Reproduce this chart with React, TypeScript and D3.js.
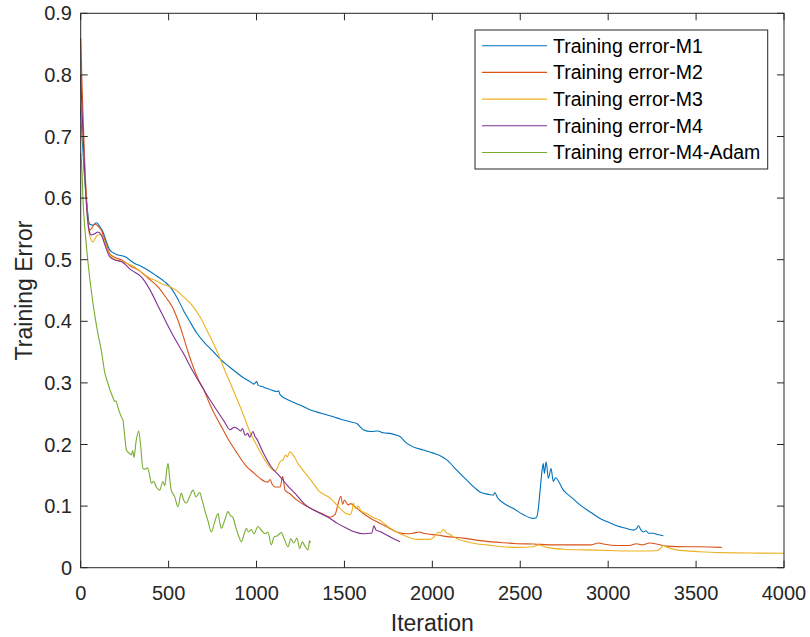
import { scaleLinear, line, curveMonotoneX } from "d3";

const width = 810;
const height = 637;
const left = 80.7;
const right = 784;
const top = 13.3;
const bottom = 567.7;

const xTicks = [0, 500, 1000, 1500, 2000, 2500, 3000, 3500, 4000];
const yTicks = [0, 0.1, 0.2, 0.3, 0.4, 0.5, 0.6, 0.7, 0.8, 0.9];

const seriesNames = [
  "Training error-M1",
  "Training error-M2",
  "Training error-M3",
  "Training error-M4",
  "Training error-M4-Adam",
];
const seriesColors = ["#0072BD", "#D95319", "#EDB120", "#7E2F8E", "#77AC30"];

// [iteration, training error]
const errM1 = [
  [0, 0.745], [8, 0.7], [20, 0.64], [35, 0.59], [50, 0.558], [70, 0.556], [90, 0.56], [110, 0.553],
  [127, 0.545], [145, 0.53], [165, 0.516], [200, 0.509], [250, 0.505], [307, 0.494], [345, 0.489],
  [383, 0.483], [430, 0.474], [478, 0.464], [508, 0.456], [545, 0.44], [584, 0.418], [620, 0.4],
  [660, 0.381], [705, 0.365], [750, 0.352], [800, 0.337], [868, 0.321], [933, 0.307], [963, 0.302],
  [985, 0.298], [1001, 0.302], [1010, 0.296], [1030, 0.294], [1070, 0.29], [1115, 0.286], [1125, 0.287],
  [1134, 0.281], [1190, 0.271], [1247, 0.264], [1300, 0.257], [1342, 0.253], [1390, 0.249], [1437, 0.245],
  [1480, 0.241], [1532, 0.237], [1570, 0.234], [1607, 0.224], [1650, 0.221], [1690, 0.222], [1721, 0.219],
  [1760, 0.218], [1797, 0.215], [1816, 0.213], [1850, 0.203], [1892, 0.196], [1950, 0.191], [2006, 0.186],
  [2050, 0.181], [2082, 0.175], [2140, 0.158], [2196, 0.142], [2240, 0.13], [2271, 0.123], [2320, 0.119],
  [2347, 0.118], [2355, 0.122], [2370, 0.114], [2404, 0.105], [2461, 0.096], [2518, 0.086], [2574, 0.08],
  [2590, 0.081], [2600, 0.09], [2613, 0.126], [2625, 0.16], [2631, 0.169], [2637, 0.153], [2647, 0.172],
  [2660, 0.145], [2675, 0.161], [2688, 0.14], [2700, 0.146], [2745, 0.126], [2800, 0.112], [2840, 0.102],
  [2900, 0.09], [2954, 0.08], [3000, 0.074], [3049, 0.068], [3100, 0.064], [3143, 0.061], [3160, 0.063],
  [3172, 0.068], [3185, 0.062], [3200, 0.058], [3215, 0.06], [3230, 0.056], [3257, 0.056], [3280, 0.054],
  [3314, 0.052],
];

const errM2 = [
  [0, 0.86], [8, 0.78], [20, 0.68], [35, 0.59], [51, 0.548], [65, 0.552], [80, 0.558], [100, 0.554],
  [117, 0.548], [140, 0.53], [165, 0.51], [200, 0.503], [231, 0.5], [288, 0.489], [330, 0.483],
  [364, 0.475], [400, 0.466], [440, 0.456], [489, 0.437], [520, 0.424], [546, 0.407], [565, 0.392],
  [584, 0.375], [612, 0.349], [641, 0.325], [670, 0.305], [698, 0.29], [735, 0.265], [773, 0.243],
  [810, 0.224], [840, 0.208], [880, 0.19], [944, 0.164], [980, 0.155], [1020, 0.145],
  [1047, 0.14], [1065, 0.139], [1077, 0.143], [1090, 0.135], [1105, 0.131], [1134, 0.131], [1149, 0.148],
  [1162, 0.126], [1190, 0.12], [1228, 0.11], [1270, 0.102], [1323, 0.094], [1370, 0.088], [1418, 0.082],
  [1446, 0.086], [1465, 0.105], [1479, 0.116], [1490, 0.103], [1500, 0.11], [1522, 0.102], [1535, 0.104],
  [1560, 0.099], [1607, 0.088], [1650, 0.08], [1702, 0.072], [1750, 0.065], [1797, 0.058], [1854, 0.055],
  [1890, 0.056], [1930, 0.058], [1950, 0.056], [1968, 0.055], [2025, 0.053], [2100, 0.05], [2176, 0.048],
  [2271, 0.044], [2385, 0.041], [2480, 0.039], [2574, 0.0385], [2680, 0.037], [2764, 0.037], [2900, 0.037],
  [2944, 0.04], [2980, 0.038], [3049, 0.036], [3120, 0.036], [3162, 0.039], [3190, 0.037], [3238, 0.04],
  [3280, 0.038], [3333, 0.035], [3450, 0.034], [3522, 0.034], [3646, 0.033],
];

const errM3 = [
  [0, 0.75], [8, 0.72], [20, 0.66], [35, 0.58], [50, 0.54], [70, 0.529], [85, 0.536], [98, 0.54],
  [117, 0.541], [140, 0.525], [165, 0.508], [200, 0.5], [231, 0.497], [288, 0.491], [345, 0.48],
  [394, 0.47], [421, 0.467], [460, 0.461], [508, 0.456], [550, 0.449], [584, 0.44], [630, 0.427],
  [679, 0.407], [724, 0.382], [773, 0.353], [820, 0.32], [868, 0.288], [920, 0.252], [963, 0.22],
  [1010, 0.194], [1047, 0.175], [1080, 0.162], [1103, 0.157], [1115, 0.16], [1134, 0.172],
  [1151, 0.175], [1165, 0.183], [1175, 0.18], [1189, 0.188], [1200, 0.186], [1215, 0.18], [1236, 0.169],
  [1265, 0.158], [1293, 0.148], [1323, 0.137], [1350, 0.126], [1418, 0.113], [1460, 0.101], [1494, 0.091],
  [1532, 0.086], [1545, 0.095], [1551, 0.105], [1562, 0.096], [1579, 0.1], [1595, 0.092], [1627, 0.088],
  [1660, 0.082], [1702, 0.077], [1750, 0.066], [1797, 0.058], [1850, 0.051], [1911, 0.046], [1987, 0.046],
  [2010, 0.05], [2034, 0.058], [2045, 0.056], [2062, 0.062], [2080, 0.057], [2100, 0.054], [2120, 0.05],
  [2196, 0.042], [2250, 0.039], [2309, 0.037], [2400, 0.034], [2480, 0.033], [2574, 0.034], [2603, 0.037],
  [2650, 0.033], [2750, 0.03], [2859, 0.029], [3000, 0.028], [3143, 0.027], [3276, 0.0276], [3300, 0.032],
  [3314, 0.036], [3335, 0.033], [3390, 0.029], [3522, 0.026], [3712, 0.024], [3850, 0.0237], [4000, 0.0234],
];

const errM4 = [
  [0, 0.8], [8, 0.74], [20, 0.66], [35, 0.58], [50, 0.545], [60, 0.54], [80, 0.542], [98, 0.545],
  [117, 0.54], [140, 0.522], [165, 0.505], [200, 0.499], [231, 0.497], [288, 0.483], [345, 0.472],
  [394, 0.451], [440, 0.425], [489, 0.397], [535, 0.372], [584, 0.348], [630, 0.323], [679, 0.299],
  [725, 0.277], [773, 0.256], [815, 0.238], [849, 0.224],
  [875, 0.228], [895, 0.225], [910, 0.222], [920, 0.226], [935, 0.215], [950, 0.218], [961, 0.212],
  [980, 0.221], [991, 0.213], [999, 0.21], [1039, 0.186], [1080, 0.165], [1134, 0.148], [1180, 0.132],
  [1228, 0.118], [1270, 0.104], [1323, 0.094], [1370, 0.087], [1418, 0.08], [1460, 0.072], [1513, 0.064],
  [1560, 0.058], [1607, 0.055], [1640, 0.056], [1655, 0.056], [1668, 0.068], [1680, 0.061], [1700, 0.059],
  [1740, 0.053], [1780, 0.047], [1816, 0.042],
];

const errM4Adam = [
  [0, 0.673], [8, 0.64], [13, 0.597], [24, 0.55], [40, 0.5], [60, 0.45], [80, 0.41], [98, 0.38],
  [117, 0.353], [136, 0.318], [155, 0.299], [165, 0.29], [174, 0.283], [185, 0.275], [193, 0.27],
  [200, 0.271], [212, 0.26], [231, 0.245], [240, 0.24], [250, 0.215], [260, 0.191], [275, 0.186],
  [288, 0.183], [296, 0.19], [303, 0.179], [316, 0.207], [330, 0.222], [341, 0.198], [354, 0.161],
  [365, 0.16], [380, 0.162], [392, 0.15], [402, 0.137], [415, 0.14], [430, 0.131], [449, 0.126],
  [468, 0.14], [478, 0.133], [490, 0.16], [497, 0.169], [505, 0.148], [515, 0.126], [535, 0.115],
  [553, 0.099], [572, 0.121], [585, 0.11], [601, 0.105], [620, 0.116], [639, 0.126], [655, 0.115],
  [677, 0.122], [690, 0.11], [705, 0.094], [725, 0.075], [743, 0.058], [760, 0.072], [781, 0.088],
  [790, 0.075], [800, 0.064], [820, 0.078], [838, 0.091], [850, 0.085], [865, 0.082], [880, 0.068],
  [900, 0.05], [914, 0.042], [930, 0.055], [942, 0.064], [955, 0.058], [970, 0.062], [985, 0.055],
  [1008, 0.067], [1030, 0.06], [1050, 0.055], [1065, 0.058], [1084, 0.037], [1100, 0.05], [1120, 0.052],
  [1141, 0.057], [1160, 0.045], [1179, 0.034], [1195, 0.047], [1212, 0.04], [1230, 0.048], [1246, 0.031],
  [1260, 0.042], [1275, 0.035], [1293, 0.029], [1302, 0.044], [1306, 0.04],
];

const allSeries = [errM1, errM2, errM3, errM4, errM4Adam];

const font = "'Liberation Sans', Arial, Helvetica, sans-serif";
const ink = "#262626";

export default function App() {
  const x = scaleLinear().domain([0, 4000]).range([left, right]);
  const y = scaleLinear().domain([0, 0.9]).range([bottom, top]);
  const path = line<number[]>()
    .x((d) => x(d[0]))
    .y((d) => y(d[1]))
    .curve(curveMonotoneX);

  const tickLen = 7;

  return (
    <svg
      width={width}
      height={height}
      style={{ position: "absolute", left: 0, top: 0, background: "#fff" }}
    >
      <rect x={0} y={0} width={width} height={height} fill="#fff" />

      {/* series */}
      <g fill="none" strokeWidth={1.1} strokeLinejoin="round">
        {allSeries.map((s, i) => (
          <path key={i} d={path(s) || ""} stroke={seriesColors[i]} />
        ))}
      </g>

      {/* axes box and ticks */}
      <g stroke={ink} strokeWidth={1}>
        <rect x={left} y={top} width={right - left} height={bottom - top} fill="none" />
        {xTicks.map((t) => (
          <g key={t}>
            <line x1={x(t)} x2={x(t)} y1={bottom} y2={bottom - tickLen} />
            <line x1={x(t)} x2={x(t)} y1={top} y2={top + tickLen} />
          </g>
        ))}
        {yTicks.map((t) => (
          <g key={t}>
            <line x1={left} x2={left + tickLen} y1={y(t)} y2={y(t)} />
            <line x1={right} x2={right - tickLen} y1={y(t)} y2={y(t)} />
          </g>
        ))}
      </g>

      <g fontFamily={font} fontSize={20} fill={ink}>
        {xTicks.map((t) => (
          <text key={t} x={x(t)} y={600} textAnchor="middle">
            {t}
          </text>
        ))}
        {yTicks.map((t) => (
          <text key={t} x={72} y={y(t)} dy="0.35em" textAnchor="end">
            {t === 0 ? "0" : t.toFixed(1)}
          </text>
        ))}
      </g>

      <text x={(left + right) / 2} y={631} textAnchor="middle" fontFamily={font} fontSize={23} fill={ink}>
        Iteration
      </text>
      <text
        transform={`translate(32,${(top + bottom) / 2}) rotate(-90)`}
        textAnchor="middle"
        fontFamily={font}
        fontSize={23}
        fill={ink}
      >
        Training Error
      </text>

      {/* legend */}
      <g>
        <rect x={475} y={30} width={292.7} height={139} fill="#fff" stroke={ink} strokeWidth={1} />
        {seriesNames.map((name, i) => {
          const ry = 45.7 + i * 26.7;
          return (
            <g key={name}>
              <line x1={482} x2={547} y1={ry} y2={ry} stroke={seriesColors[i]} strokeWidth={1.1} />
              <text x={553} y={ry} dy="0.35em" fontFamily={font} fontSize={19.5} fill="#000">
                {name}
              </text>
            </g>
          );
        })}
      </g>
    </svg>
  );
}
